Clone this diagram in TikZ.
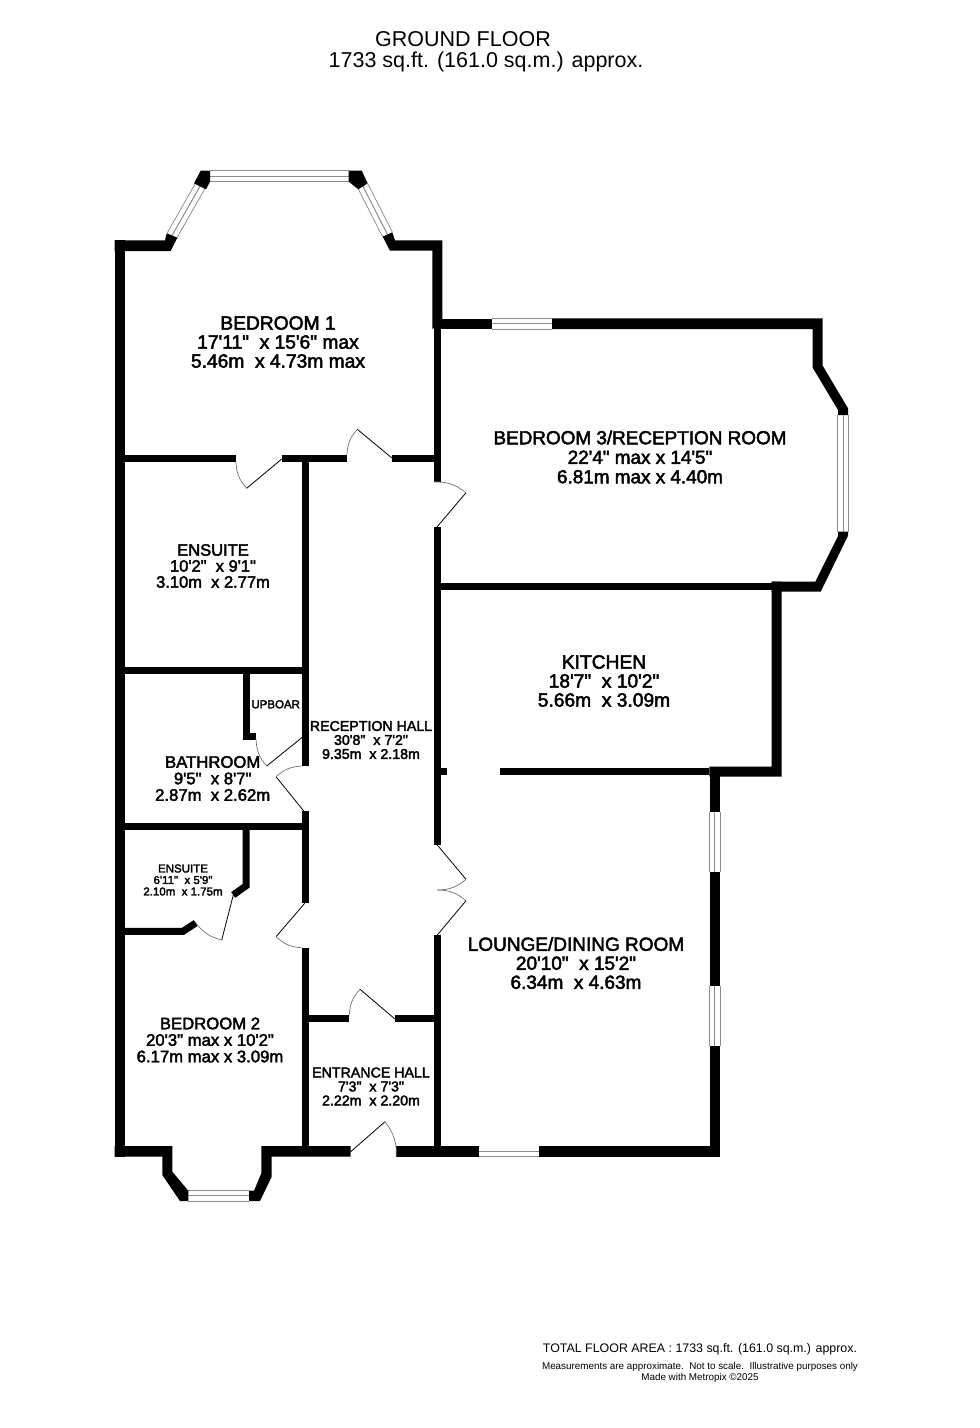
\documentclass[tikz,border=0pt]{standalone}
\usepackage{fontspec}
\newfontfamily\planfont{Liberation Sans}
\newfontfamily\roomfont[FakeBold=2.5]{Liberation Sans}
\tikzset{
	outerwall/.style={line width=10.4pt},
	innerwall/.style={line width=7pt},
	leaf/.style={line width=0.8pt},
	swing/.style={line width=0.7pt,black!55},
	roomtext/.style 2 args={font=\roomfont\fontsize{#1}{#2}\selectfont,align=center,inner sep=0pt},
	plaintext/.style 2 args={font=\planfont\fontsize{#1}{#2}\selectfont,align=center,inner sep=0pt}
}
\begin{document}
\begin{tikzpicture}[x=1pt,y=-1pt]
	\useasboundingbox (0,0) rectangle (980,1428);
	\fill[white] (0,0) rectangle (980,1428);
	% windows
	\foreach \ax/\ay/\bx/\by in {210/176.2/348.7/176.2,172/235.5/200/186.3,363/186.3/387.5/234.5,492/323.7/552/323.7,843/415/843/531.7,714.7/811.7/714.7/872,714.7/986/714.7/1046.3,479/1151.3/539.3/1151.3,188.3/1195.8/249/1195.8}{
		\draw[black!45,line width=11.6pt] (\ax,\ay)--(\bx,\by);
		\draw[white,line width=9.8pt] (\ax,\ay)--(\bx,\by);
		\draw[black!45,line width=1pt] (\ax,\ay)--(\bx,\by);
	}
	% bay pieces
	\fill (114.7,240.3)--(165,240.3)--(166.7,233.3)--(177.3,237.7)--(170.7,251)--(114.7,251)--cycle;
	\fill (200.7,170.7)--(210,170.7)--(210,181.7)--(206,189.3)--(194,183.3)--cycle;
	\fill (348.7,170.7)--(361.7,170.7)--(367.7,183.3)--(358.3,189.3)--(348.7,181.7)--cycle;
	\fill (382.7,236.7)--(392.3,232.3)--(395,240.3)--(442.3,240.3)--(442.3,328.7)--(432.3,328.7)--(432.3,250.7)--(390,250.7)--cycle;
	\fill (552,318.3)--(822.7,318.3)--(822.7,365.7)--(848,408.3)--(848,415)--(838,415)--(838,410)--(812.7,367.7)--(812.7,329)--(552,329)--cycle;
	\fill (838,531.7)--(848,531.7)--(848,535.7)--(820.7,591.7)--(771.7,591.7)--(771.7,581.7)--(815.3,581.7)--(838,536)--cycle;
	\fill (771.7,581.7)--(781.7,581.7)--(781.7,776.7)--(709.3,776.7)--(709.3,766.7)--(771.7,766.7)--cycle;
	\fill (114.7,1146)--(172.3,1146)--(172.3,1171.7)--(188.3,1190.7)--(188.3,1201)--(180,1201)--(162.3,1175)--(162.3,1156.7)--(114.7,1156.7)--cycle;
	\fill (350.7,1146)--(261.3,1146)--(261.3,1173.3)--(254,1190.7)--(249,1190.7)--(249,1201)--(260,1201)--(271.7,1176.7)--(271.7,1156.7)--(350.7,1156.7)--cycle;
	% outer walls
	\draw[outerwall] (120,240.3)--(120,1156.7);
	\draw[outerwall] (437,323.7)--(492,323.7);
	\draw[outerwall] (714.7,766.7)--(714.7,811.7);
	\draw[outerwall] (714.7,872)--(714.7,986);
	\draw[outerwall] (714.7,1046.3)--(714.7,1156.7);
	\draw[outerwall] (396.3,1151.3)--(479,1151.3);
	\draw[outerwall] (539.3,1151.3)--(720,1151.3);
	% inner walls
	\draw[innerwall] (437.3,328)--(437.3,482);
	\draw[innerwall] (437.3,527.3)--(437.3,844.7);
	\draw[innerwall] (437.3,935)--(437.3,1147);
	\draw[innerwall] (125,458.7)--(236,458.7);
	\draw[innerwall] (281.7,458.7)--(346.7,458.7);
	\draw[innerwall] (392.3,458.7)--(434,458.7);
	\draw[innerwall] (305.3,458.7)--(305.3,766);
	\draw[innerwall] (305.3,811.3)--(305.3,903.3);
	\draw[innerwall] (305.3,948.3)--(305.3,1147);
	\draw[innerwall] (125,670.3)--(305,670.3);
	\draw[innerwall] (246.2,670)--(246.2,740);
	\draw[innerwall] (243,736.7)--(256,736.7);
	\draw[innerwall] (125,826.8)--(305,826.8);
	\draw[innerwall] (246.2,826.8)--(246.2,885.7)--(233.2,895);
	\draw[innerwall] (125,931.3)--(183,931.3)--(195.7,923);
	\draw[innerwall] (305,1018.7)--(349.3,1018.7);
	\draw[innerwall] (395,1018.7)--(437,1018.7);
	\draw[innerwall] (440,771.8)--(446.7,771.8);
	\draw[innerwall] (500.3,771.7)--(709.3,771.7);
	\draw[innerwall] (437,586.7)--(771.7,586.7);
	% doors
	\draw[leaf] (281.7,459)--(246.7,488.3);
	\draw[swing] (236,462.3) to[bend right=20] (246.7,488.3);
	\draw[leaf] (392.3,458.3)--(357.3,429.3);
	\draw[swing] (347,455) to[bend left=20] (357.3,429.3);
	\draw[leaf] (436.7,527.3)--(466,492.7);
	\draw[swing] (434,482) to[bend left=20] (466,492.7);
	\draw[leaf] (302.3,737.3)--(266.7,766);
	\draw[swing] (256,738.3) to[bend right=20] (266.7,766);
	\draw[leaf] (304,811.3)--(276,776.7);
	\draw[swing] (302.3,766) to[bend right=20] (276,776.7);
	\draw[leaf] (233.3,895)--(221.7,940);
	\draw[swing] (221.7,940) to[bend left=20] (195,921.7);
	\draw[leaf] (304.7,903.3)--(276,936.7);
	\draw[swing] (276,936.7) to[bend right=20] (301.7,947.7);
	\draw[leaf] (437.3,845)--(466,879.3);
	\draw[swing] (466,879.3) to[bend left=20] (437.3,890);
	\draw[swing] (437.3,890) to[bend left=20] (466,900.7);
	\draw[leaf] (466,900.7)--(437.3,935);
	\draw[leaf] (395,1019)--(360,989.3);
	\draw[swing] (349.3,1015) to[bend left=20] (360,989.3);
	\draw[leaf] (350.7,1151.7)--(385,1121.7);
	\draw[swing] (385,1121.7) to[bend left=20] (396.3,1156.7);
	% labels
	\node[plaintext={21.5}{23}] (groundfloor) at (463,39) {GROUND FLOOR};
	\node[plaintext={21.5}{23}] (floorarea) at (486,62) {1733 sq.ft. (161.0 sq.m.) approx.};
	\node[roomtext={19.2}{19}] (bedroomone) at (278,342) {BEDROOM 1\\17'11"~~x 15'6" max\\5.46m~~x 4.73m max};
	\node[roomtext={18.9}{19.5}] (bedroomthree) at (640,457) {BEDROOM 3/RECEPTION ROOM\\22'4" max x 14'5"\\6.81m max x 4.40m};
	\node[roomtext={19.2}{19}] (kitchen) at (604,681) {KITCHEN\\18'7"~~x 10'2"\\5.66m~~x 3.09m};
	\node[roomtext={16.5}{16}] (ensuiteone) at (213,566) {ENSUITE\\10'2"~~x 9'1"\\3.10m~~x 2.77m};
	\node[roomtext={11.5}{13}] (cupboard) at (275.7,704.3) {UPBOAR};
	\node[roomtext={14.2}{14}] (receptionhall) at (371,740) {RECEPTION HALL\\30'8"~~x 7'2"\\9.35m~~x 2.18m};
	\node[roomtext={16.7}{16.5}] (bathroom) at (212.7,778.5) {BATHROOM\\9'5"~~x 8'7"\\2.87m~~x 2.62m};
	\node[roomtext={11.5}{11.5}] (ensuitetwo) at (183,880) {ENSUITE\\6'11"~~x 5'9"\\2.10m~~x 1.75m};
	\node[roomtext={16.7}{16.5}] (bedroomtwo) at (210,1040) {BEDROOM 2\\20'3" max x 10'2"\\6.17m max x 3.09m};
	\node[roomtext={14.2}{14}] (entrancehall) at (371,1086.5) {ENTRANCE HALL\\7'3"~~x 7'3"\\2.22m~~x 2.20m};
	\node[roomtext={19}{19}] (lounge) at (576,963) {LOUNGE/DINING ROOM\\20'10"~~x 15'2"\\6.34m~~x 4.63m};
	\node[plaintext={12.4}{15}] (totalarea) at (700,1349.7) {TOTAL FLOOR AREA : 1733 sq.ft. (161.0 sq.m.) approx.};
	\node[plaintext={9.85}{11}] (disclaimer) at (700,1372.5) {Measurements are approximate.~~Not to scale.~~Illustrative purposes only\\Made with Metropix ©2025};
\end{tikzpicture}
\end{document}
